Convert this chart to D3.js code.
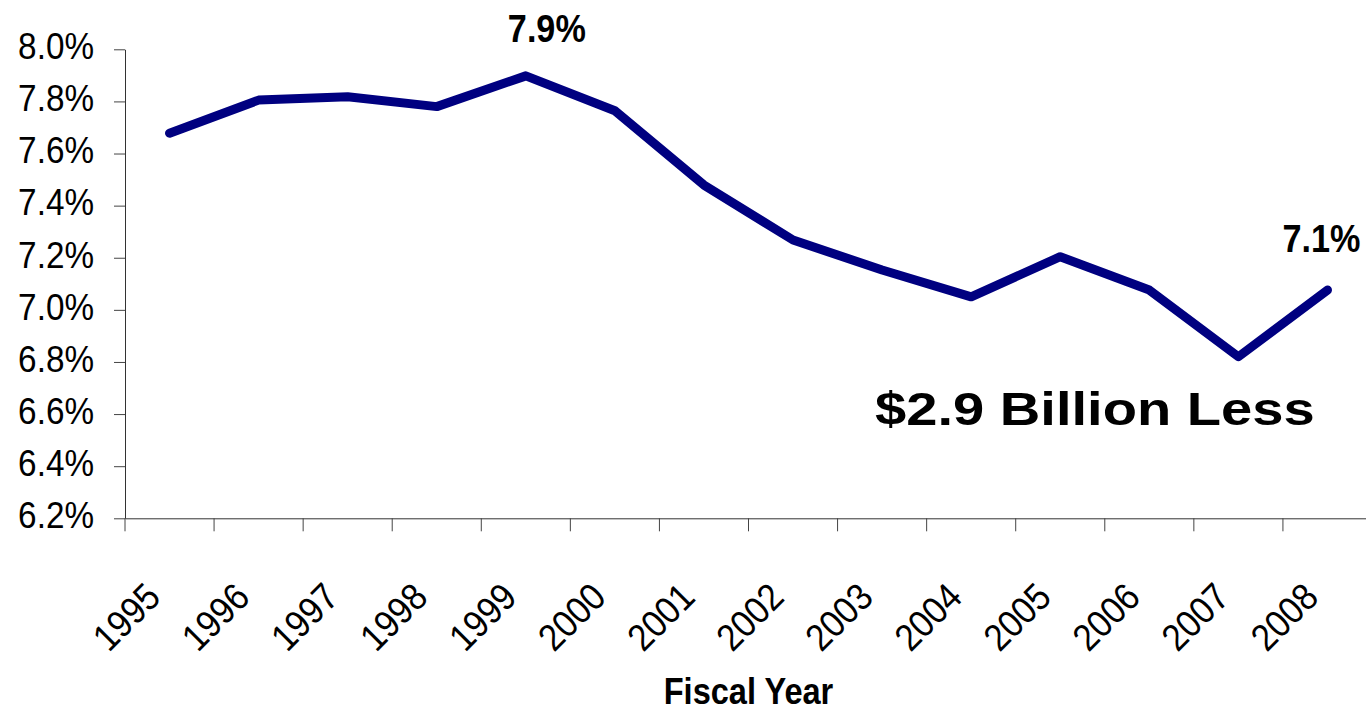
<!DOCTYPE html>
<html>
<head>
<meta charset="utf-8">
<script src="https://cdn.jsdelivr.net/npm/d3@7"></script>
<style>
  body { margin: 0; background: #fff; }
  svg { display: block; font-family: "Liberation Sans", Arial, sans-serif; }
</style>
</head>
<body>
<div id="graph"></div>
<script>
// data
const years = ["1995", "1996", "1997", "1998", "1999", "2000", "2001",
  "2002", "2003", "2004", "2005", "2006", "2007", "2008"];
const rates = [7.678, 7.805, 7.818, 7.78, 7.898, 7.764, 7.479,
  7.268, 7.153, 7.05, 7.204, 7.076, 6.82, 7.076];
const yTicks = [6.2, 6.4, 6.6, 6.8, 7.0, 7.2, 7.4, 7.6, 7.8, 8.0];
const callouts = ["1999", "2008"];
const note = "$2.9 Billion Less";
const xTitle = "Fiscal Year";

const W = 1366, H = 710;

const svg = d3.select("#graph")
  .append("svg")
  .attr("width", W)
  .attr("height", H);

// scales
const x = d3.scaleBand().domain(years).range([125, 1372]).padding(0);
const y = d3.scaleLinear().domain([6.2, 8.0]).range([518.3, 49.3]);
const bw = x.bandwidth();

// y axis
const yAxis = svg.append("g")
  .attr("transform", "translate(125,0)")
  .call(d3.axisLeft(y).tickValues(yTicks).tickSize(11).tickSizeOuter(0)
    .tickFormat(d => d.toFixed(1) + "%"));
yAxis.select(".domain").attr("stroke", "#333");
yAxis.selectAll(".tick line").attr("stroke", "#444");
yAxis.selectAll(".tick text")
  .attr("x", 0)
  .attr("dy", "0.25em")
  .attr("font-size", 37)
  .attr("fill", "#000")
  .attr("transform", "translate(-31,0) scale(0.9,1)");

// x axis, tick marks between the years
const xAxis = svg.append("g")
  .attr("transform", "translate(0," + y(6.2) + ")")
  .call(d3.axisBottom(x).tickSize(13).tickSizeOuter(0));
xAxis.select(".domain").attr("stroke", "#333");
xAxis.selectAll(".tick line")
  .attr("stroke", "#444")
  .attr("transform", "translate(" + (-bw / 2) + ",0)");
xAxis.selectAll(".tick text")
  .attr("x", 0)
  .attr("y", 0)
  .attr("dy", 0)
  .attr("text-anchor", "end")
  .attr("font-size", 38)
  .attr("fill", "#000")
  .attr("transform", "translate(-7,81) rotate(-45) scale(0.9,1)");

// axis title
svg.append("text")
  .attr("transform", "translate(" + (125 + 1372) / 2 + ",704) scale(0.88,1)")
  .attr("text-anchor", "middle")
  .attr("font-size", 37)
  .attr("font-weight", "bold")
  .text(xTitle);

// the line
const line = d3.line()
  .x((d, i) => x(years[i]) + bw / 2)
  .y(d => y(d));

svg.append("path")
  .datum(rates)
  .attr("fill", "none")
  .attr("stroke", "#000080")
  .attr("stroke-width", 9)
  .attr("stroke-linecap", "round")
  .attr("stroke-linejoin", "round")
  .attr("d", line);

// value callouts
const callOffsets = { "1999": [21, -34], "2008": [-6, -38] };
callouts.forEach(function (yr) {
  const i = years.indexOf(yr);
  const cx = x(yr) + bw / 2 + callOffsets[yr][0];
  const cy = y(rates[i]) + callOffsets[yr][1];
  svg.append("text")
    .attr("transform", "translate(" + cx + "," + cy + ") scale(0.9,1)")
    .attr("text-anchor", "middle")
    .attr("font-size", 38)
    .attr("font-weight", "bold")
    .text(rates[i].toFixed(1) + "%");
});

// note
svg.append("text")
  .attr("transform", "translate(875,425) scale(1.22,1)")
  .attr("font-size", 46)
  .attr("font-weight", "bold")
  .text(note);
</script>
</body>
</html>
